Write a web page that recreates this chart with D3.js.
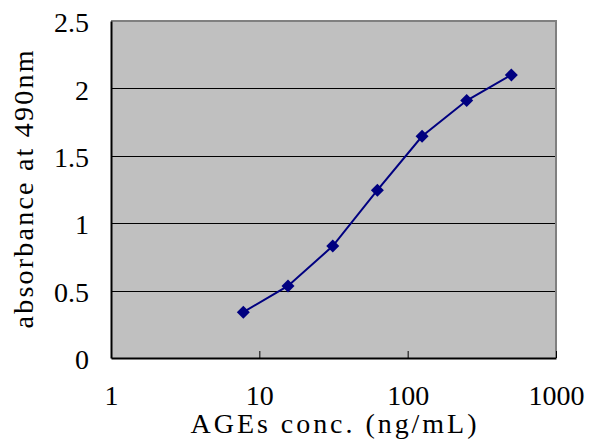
<!DOCTYPE html>
<html>
<head>
<meta charset="utf-8">
<script src="https://cdn.jsdelivr.net/npm/d3@7"></script>
<style>
  body { margin: 0; background: #fff; }
</style>
</head>
<body>
<svg id="chart" width="590" height="439"></svg>
<script>
// data
const conc = [7.8, 15.6, 31.25, 62.5, 125, 250, 500];
const absorbance = [0.34, 0.535, 0.83, 1.245, 1.645, 1.91, 2.10];
const xTicks = [1, 10, 100, 1000];
const yTicks = [0, 0.5, 1, 1.5, 2, 2.5];

const data = conc.map((c, i) => ({x: c, y: absorbance[i]}));

const FONT = "Liberation Serif";
const plotLeft = 111, plotRight = 556, plotTop = 21, plotBottom = 358;
const svg = d3.select("#chart");

const xScale = d3.scaleLog().domain([1, 1000]).range([plotLeft, plotRight]);
const yScale = d3.scaleLinear().domain([0, 2.5]).range([plotBottom, plotTop]);

// plot background
svg.append("rect")
    .attr("x", plotLeft).attr("y", plotTop)
    .attr("width", plotRight - plotLeft).attr("height", plotBottom - plotTop)
    .attr("fill", "#c0c0c0");

// gridlines
svg.append("g")
    .selectAll("line")
    .data(yTicks.filter(d => d > 0 && d < 2.5))
    .join("line")
    .attr("x1", plotLeft).attr("x2", plotRight)
    .attr("y1", d => Math.round(yScale(d)) + 0.5)
    .attr("y2", d => Math.round(yScale(d)) + 0.5)
    .attr("stroke", "#000").attr("stroke-width", 1);

// top and right border (gray)
svg.append("path")
    .attr("d", `M${plotLeft},${plotTop}H${plotRight}V${plotBottom}`)
    .attr("fill", "none")
    .attr("stroke", "#808080")
    .attr("stroke-width", 2);

// Y axis labels
const y_axis = d3.axisLeft(yScale).tickValues(yTicks).tickSize(0).tickPadding(22).tickFormat(d => d);
svg.append("g")
    .attr("transform", `translate(${plotLeft}, 0)`)
    .call(y_axis)
    .attr("font-family", FONT)
    .attr("font-size", 28)
    .call(g => g.select(".domain").attr("stroke", "#000").attr("stroke-width", 2))
    .call(g => g.selectAll("text").attr("dy", "0.38em"));

// X axis, ticks point inwards
const x_axis = d3.axisBottom(xScale).tickValues(xTicks).tickSizeInner(-7).tickSizeOuter(0)
    .tickPadding(27).tickFormat(d3.format("d"));
svg.append("g")
    .attr("transform", `translate(0, ${plotBottom})`)
    .call(x_axis)
    .attr("font-family", FONT)
    .attr("font-size", 28)
    .call(g => g.select(".domain").attr("stroke", "#000").attr("stroke-width", 2))
    .call(g => g.selectAll("line").attr("stroke", "#000"));

// line
svg.append("path")
    .datum(data)
    .attr("d", d3.line().x(d => xScale(d.x)).y(d => yScale(d.y)))
    .attr("fill", "none")
    .attr("stroke", "#000080")
    .attr("stroke-width", 2);

// diamond markers
svg.selectAll(".marker")
    .data(data)
    .join("path")
    .attr("class", "marker")
    .attr("transform", d => `translate(${xScale(d.x)}, ${yScale(d.y)})`)
    .attr("d", "M0,-6.5L6.5,0L0,6.5L-6.5,0Z")
    .attr("fill", "#000080");

// axis titles
svg.append("text")
    .attr("x", (plotLeft + plotRight) / 2)
    .attr("y", 433)
    .attr("text-anchor", "middle")
    .attr("font-family", FONT)
    .attr("font-size", 28)
    .attr("textLength", 286)
    .attr("lengthAdjust", "spacing")
    .attr("fill", "#000")
    .text("AGEs conc.  (ng/mL)");

svg.append("text")
    .attr("transform", `translate(33, ${(plotTop + plotBottom) / 2}) rotate(-90)`)
    .attr("text-anchor", "middle")
    .attr("font-family", FONT)
    .attr("font-size", 28)
    .attr("textLength", 278)
    .attr("lengthAdjust", "spacing")
    .attr("fill", "#000")
    .text("absorbance at 490nm");
</script>
</body>
</html>
